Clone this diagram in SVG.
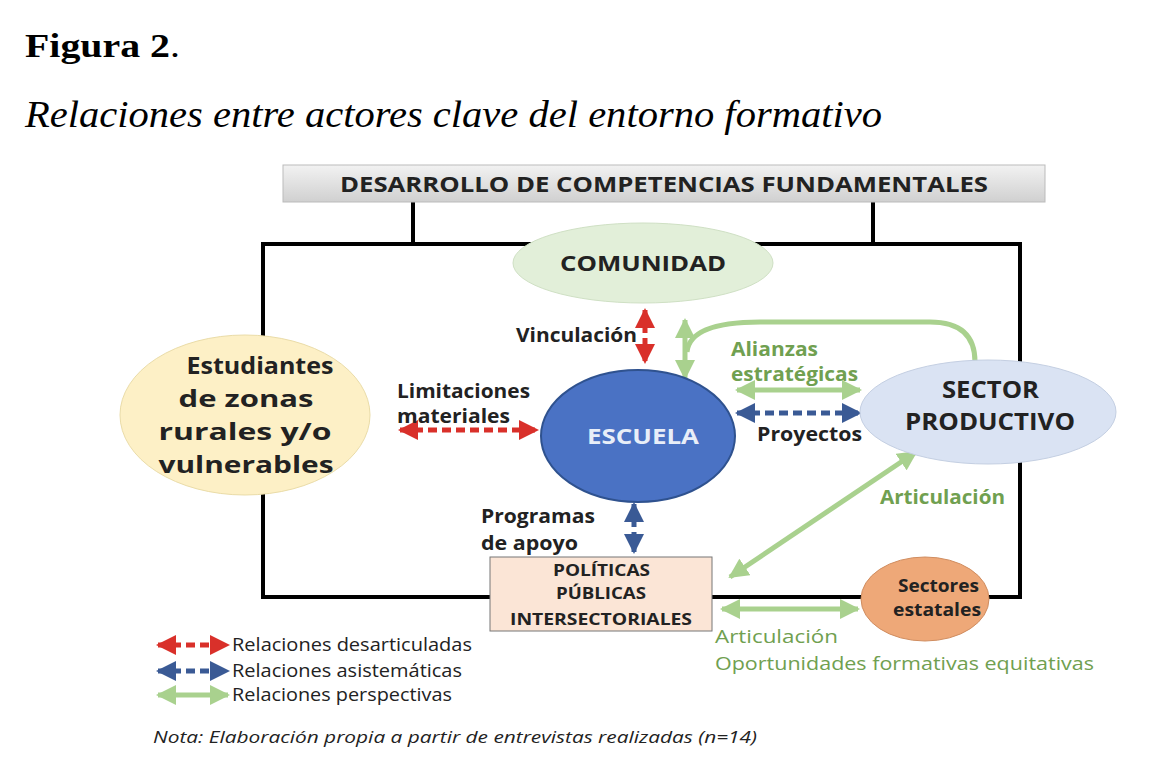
<svg xmlns="http://www.w3.org/2000/svg" width="1158" height="772" viewBox="0 0 1158 772">
<defs>
<linearGradient id="gb" x1="0" y1="0" x2="0" y2="1"><stop offset="0" stop-color="#f2f2f2"/><stop offset="1" stop-color="#d0d0d0"/></linearGradient>
<marker id="mr" viewBox="0 0 10 10" refX="9" refY="5" markerWidth="4" markerHeight="4" orient="auto-start-reverse"><path d="M0,0L10,5L0,10z" fill="#d9302a"/></marker>
<marker id="mb" viewBox="0 0 10 10" refX="9" refY="5" markerWidth="4" markerHeight="4" orient="auto-start-reverse"><path d="M0,0L10,5L0,10z" fill="#3a5a95"/></marker>
<marker id="mg" viewBox="0 0 10 10" refX="9" refY="5" markerWidth="4" markerHeight="4" orient="auto-start-reverse"><path d="M0,0L10,5L0,10z" fill="#a9d18e"/></marker>
<style>
.s{font-family:"Open Sans","Liberation Sans",sans-serif}
.b{font-weight:bold;fill:#222}
.red{stroke:#d9302a;stroke-width:5;stroke-dasharray:9 5;fill:none}
.blue{stroke:#3a5a95;stroke-width:5;stroke-dasharray:9 5;fill:none}
.grn{stroke:#a9d18e;stroke-width:5;fill:none}
.gt{fill:#70a050;font-weight:bold}
</style>
</defs>
<text x="25" y="57" font-family="Liberation Serif,serif" font-size="34" font-weight="bold" textLength="155" lengthAdjust="spacingAndGlyphs">Figura 2<tspan font-weight="normal">.</tspan></text>
<text x="25" y="127" font-family="Liberation Serif,serif" font-size="37" font-style="italic" textLength="857" lengthAdjust="spacingAndGlyphs">Relaciones entre actores clave del entorno formativo</text>
<g id="frame" stroke="#000" stroke-width="4" fill="none">
<path d="M413,202V244M873,202V244M263,244H1020V597H263Z"/>
</g>
<g id="banner"><rect x="283" y="165" width="762" height="37" fill="url(#gb)" stroke="#bbb"/>
<text class="s b" x="340" y="192" font-size="22" textLength="648" lengthAdjust="spacingAndGlyphs">DESARROLLO DE COMPETENCIAS FUNDAMENTALES</text></g>
<g id="connectors">
<line class="red" x1="400" y1="430" x2="537" y2="430" marker-start="url(#mr)" marker-end="url(#mr)"/>
<line class="red" x1="645" y1="310" x2="645" y2="362" marker-start="url(#mr)" marker-end="url(#mr)"/>
<line class="grn" x1="685" y1="320" x2="685" y2="378" marker-start="url(#mg)" marker-end="url(#mg)"/>
<path class="grn" d="M687,352Q690,322 760,322L930,322Q975,322 975,362"/>
<line class="grn" x1="737" y1="390" x2="860" y2="390" marker-start="url(#mg)" marker-end="url(#mg)"/>
<line class="blue" x1="737" y1="413" x2="860" y2="413" marker-start="url(#mb)" marker-end="url(#mb)"/>
<line class="blue" x1="634" y1="504" x2="634" y2="552" marker-start="url(#mb)" marker-end="url(#mb)"/>
<line class="grn" x1="730" y1="577" x2="916" y2="452" marker-start="url(#mg)" marker-end="url(#mg)"/>
<line class="grn" x1="722" y1="609" x2="858" y2="609" marker-start="url(#mg)" marker-end="url(#mg)"/>
</g>
<g id="comunidad"><ellipse cx="643" cy="263" rx="130" ry="40" fill="#e2efd9" stroke="#cfe0c4"/>
<text class="s b" x="560" y="271" font-size="21" textLength="166" lengthAdjust="spacingAndGlyphs">COMUNIDAD</text></g>
<g id="estudiantes"><ellipse cx="245" cy="415" rx="125" ry="80" fill="#fdf0c6" stroke="#eadca8"/>
<text class="s b" font-size="23" text-anchor="middle"><tspan x="260" y="374" textLength="147" lengthAdjust="spacingAndGlyphs">Estudiantes</tspan><tspan x="246" y="407" textLength="135" lengthAdjust="spacingAndGlyphs">de zonas</tspan><tspan x="245" y="440" textLength="173" lengthAdjust="spacingAndGlyphs">rurales y/o</tspan><tspan x="246" y="473" textLength="175" lengthAdjust="spacingAndGlyphs">vulnerables</tspan></text></g>
<g id="escuela"><ellipse cx="638" cy="436" rx="97" ry="66" fill="#4a72c4" stroke="#2f528f" stroke-width="2"/>
<text class="s" x="587" y="444" font-size="21" font-weight="bold" fill="#e8eef8" textLength="112" lengthAdjust="spacingAndGlyphs">ESCUELA</text></g>
<g id="sector"><ellipse cx="988" cy="412" rx="128" ry="52" fill="#dae3f3" stroke="#c4cfe2"/>
<text class="s b" font-size="23"><tspan x="942" y="398" textLength="97" lengthAdjust="spacingAndGlyphs">SECTOR</tspan><tspan x="905" y="430" textLength="170" lengthAdjust="spacingAndGlyphs">PRODUCTIVO</tspan></text></g>
<g id="politicas"><rect x="490" y="557" width="222" height="74" fill="#fbe5d6" stroke="#777"/>
<text class="s b" font-size="16"><tspan x="553" y="576" textLength="97" lengthAdjust="spacingAndGlyphs">POLÍTICAS</tspan><tspan x="556" y="599" textLength="90" lengthAdjust="spacingAndGlyphs">PÚBLICAS</tspan><tspan x="510" y="625" textLength="182" lengthAdjust="spacingAndGlyphs">INTERSECTORIALES</tspan></text></g>
<g id="estatales"><ellipse cx="925" cy="599" rx="64" ry="42" fill="#eea878" stroke="#d08d60"/>
<text class="s b" font-size="17"><tspan x="898" y="592" textLength="81" lengthAdjust="spacingAndGlyphs">Sectores</tspan><tspan x="893" y="616" textLength="88" lengthAdjust="spacingAndGlyphs">estatales</tspan></text></g>
<g id="labels" class="s" font-size="19">
<text class="b" x="516" y="342" textLength="121" lengthAdjust="spacingAndGlyphs">Vinculación</text>
<text class="gt" x="731" y="356" textLength="87" lengthAdjust="spacingAndGlyphs">Alianzas</text>
<text class="gt" x="731" y="381" textLength="127" lengthAdjust="spacingAndGlyphs">estratégicas</text>
<text class="b" x="397" y="398" textLength="133" lengthAdjust="spacingAndGlyphs">Limitaciones</text>
<text class="b" x="397" y="423" textLength="113" lengthAdjust="spacingAndGlyphs">materiales</text>
<text class="b" x="757" y="441" textLength="105" lengthAdjust="spacingAndGlyphs">Proyectos</text>
<text class="b" x="481" y="523" textLength="114" lengthAdjust="spacingAndGlyphs">Programas</text>
<text class="b" x="481" y="550" textLength="97" lengthAdjust="spacingAndGlyphs">de apoyo</text>
<text class="gt" x="880" y="504" textLength="125" lengthAdjust="spacingAndGlyphs">Articulación</text>
<text x="715" y="643" fill="#70a050" textLength="123" lengthAdjust="spacingAndGlyphs">Articulación</text>
<text x="715" y="670" fill="#70a050" textLength="379" lengthAdjust="spacingAndGlyphs">Oportunidades formativas equitativas</text>
</g>
<g id="legend" class="s" font-size="18" fill="#222">
<line class="red" x1="158" y1="645" x2="228" y2="645" stroke-dasharray="6 4" marker-start="url(#mr)" marker-end="url(#mr)"/>
<line class="blue" x1="158" y1="671" x2="228" y2="671" stroke-dasharray="6 4" marker-start="url(#mb)" marker-end="url(#mb)"/>
<line class="grn" x1="158" y1="695" x2="228" y2="695" marker-start="url(#mg)" marker-end="url(#mg)"/>
<text x="232" y="651" textLength="240" lengthAdjust="spacingAndGlyphs">Relaciones desarticuladas</text>
<text x="232" y="677" textLength="230" lengthAdjust="spacingAndGlyphs">Relaciones asistemáticas</text>
<text x="232" y="701" textLength="220" lengthAdjust="spacingAndGlyphs">Relaciones perspectivas</text>
</g>
<text class="s" x="153" y="743" font-size="17" font-style="italic" fill="#222" textLength="604" lengthAdjust="spacingAndGlyphs">Nota: Elaboración propia a partir de entrevistas realizadas (n=14)</text>
</svg>
